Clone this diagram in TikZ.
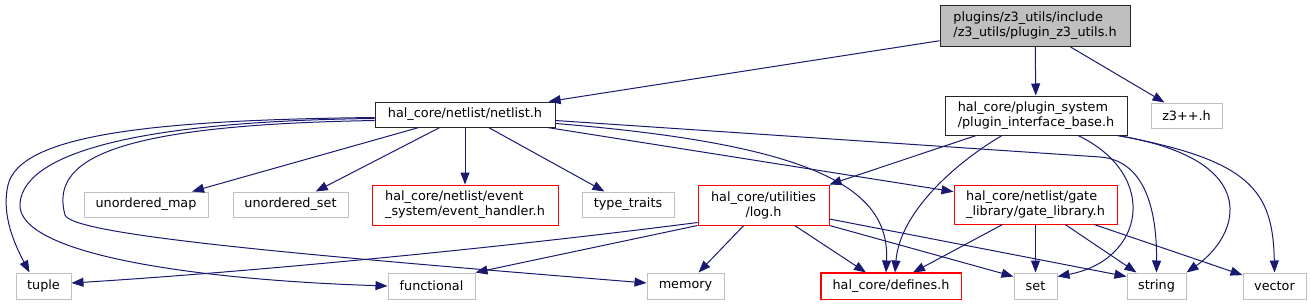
\documentclass[tikz,border=0pt]{standalone}
\usepackage{fontspec}
\usepackage{xcolor}
\usepackage{tikz}
\usetikzlibrary{arrows.meta,calc}
\newfontfamily\dxfont{DejaVu Sans}
\definecolor{cEdge}{HTML}{191970}
\definecolor{cExt}{HTML}{BFBFBF}
\definecolor{cTrunc}{HTML}{FF0000}
\definecolor{cRootF}{HTML}{BFBFBF}
\definecolor{cOwn}{HTML}{262626}
\tikzset{
  file/.style  ={rectangle, draw, line width=1pt, inner sep=0pt,
                 font=\dxfont\fontsize{12.8}{15}\selectfont, text=black},
  wh/.style 2 args={minimum width=#1pt, minimum height=#2pt},
  root/.style  ={file, draw=cOwn, fill=cRootF, align=left},
  own/.style   ={file, draw=cOwn, fill=white},
  ext/.style   ={file, draw=cExt, fill=white},
  trunc/.style ={file, draw=cTrunc, fill=white},
  dep/.style   ={-{Triangle[length=12pt,width=9pt]}, line width=1pt, draw=cEdge},
}

\begin{document}
\begin{tikzpicture}[x=1pt,y=-1pt]
  \useasboundingbox (0,0) rectangle (1311,305);

  % ---- root ----
  \node[root, wh={190}{41}] (z3utils) at (1035,26)
    {plugins/z3\_utils/include\\/z3\_utils/plugin\_z3\_utils.h};

  % ---- first level ----
  \node[own, wh={180}{25}] (netlist) at (465,114.5) {hal\_core/netlist/netlist.h};
  \node[own, wh={182}{39}, align=left] (pib) at (1036,115.5)
    {hal\_core/plugin\_system\\/plugin\_interface\_base.h};
  \node[ext, wh={71}{25}] (z3pp) at (1186.5,115.5) {z3++.h};

  % ---- second level ----
  \node[ext, wh={124}{25}] (umap) at (146,204.5) {unordered\_map};
  \node[ext, wh={115}{25}] (uset) at (290.5,204.5) {unordered\_set};
  \node[trunc, wh={186}{40}, align=left] (evh) at (465,205)
    {hal\_core/netlist/event\\\_system/event\_handler.h};
  \node[ext, wh={92}{25}] (traits) at (628,204.5) {type\_traits};
  \node[trunc, wh={131}{40}, align=center] (log) at (763.5,205)
    {hal\_core/utilities\\/log.h};
  \node[trunc, wh={163}{39}, align=left] (gate) at (1035.5,204.5)
    {hal\_core/netlist/gate\\\_library/gate\_library.h};

  % ---- std headers + defines ----
  \node[ext, wh={55}{26}] (tuple) at (43.5,286) {tuple};
  \node[ext, wh={87}{26}] (functional) at (431.5,286) {functional};
  \node[ext, wh={77}{26}] (memory) at (685.5,286) {memory};
  \node[trunc, wh={140}{26}] (defs) at (891,286) {hal\_core/defines.h};
  \node[ext, wh={43}{26}] (hset) at (1035.5,286) {set};
  \node[ext, wh={59}{26}] (hstring) at (1156.5,286) {string};
  \node[ext, wh={63}{26}] (vector) at (1274.5,286) {vector};

  % ---- edges from root ----
  \draw[dep] (z3utils) -- (netlist);
  \draw[dep] (z3utils) -- (pib);
  \draw[dep] (z3utils) -- (z3pp);

  % ---- edges from netlist.h ----
  \draw[dep] ($(netlist.west)+(0,3)$) .. controls (150,120) and (20,135) .. (8,185)
        .. controls (1,215) and (15,245) .. ($(tuple.north)+(-14,0)$);
  \draw[dep] ($(netlist.west)+(0,4)$) .. controls (150,121) and (25,150) .. (20,203)
        .. controls (15,255) and (200,280) .. (functional.west);
  \draw[dep] ($(netlist.west)+(0,6)$) .. controls (110,125) and (50,160) .. (65,215)
        .. controls (72,235) and (300,255) .. ($(memory.west)+(0,-3)$);
  \draw[dep] (netlist) -- (umap);
  \draw[dep] (netlist) -- (uset);
  \draw[dep] (netlist) -- (evh);
  \draw[dep] (netlist) -- (traits);
  \draw[dep] (netlist) -- (gate);
  \draw[dep] ($(netlist.east)+(0,9)$) .. controls (820,145) and (890,190)
        .. ($(defs.north)+(-5,0)$);
  \draw[dep] ($(netlist.east)+(0,6)$) -- (1100,157)
        .. controls (1140,160) and (1157,200) .. (hstring.north);

  % ---- edges from plugin_interface_base.h ----
  \draw[dep] (pib) -- (log.north east);
  \draw[dep] ($(pib.south)+(-34,0)$) .. controls (960,160) and (900,210)
        .. ($(defs.north)+(4,0)$);
  \draw[dep] ($(pib.south)+(42,0)$) .. controls (1160,175) and (1145,260)
        .. ($(hset.north east)+(0,4)$);
  \draw[dep] ($(pib.south east)+(-10,0)$) .. controls (1265,160) and (1240,235)
        .. (hstring.north east);
  \draw[dep] ($(pib.south east)+(-10,0)$) .. controls (1250,160) and (1273,190)
        .. (vector.north);

  % ---- edges from log.h ----
  \draw[dep] ($(log.south west)+(0,-3)$) .. controls (500,248) and (250,272)
        .. ($(tuple.east)+(0,-3)$);
  \draw[dep] (log.south west) -- (functional.north east);
  \draw[dep] (log) -- (memory);
  \draw[dep] (log) -- ($(defs.north)+(-25,0)$);
  \draw[dep] (log.south east) -- ($(hset.north west)+(0,4)$);
  \draw[dep] ($(log.east)+(0,14)$) -- ($(hstring.north west)+(0,4)$);

  % ---- edges from gate_library.h ----
  \draw[dep] ($(gate.south)+(-33,0)$) -- ($(defs.north)+(22,0)$);
  \draw[dep] (gate) -- (hset);
  \draw[dep] (gate) -- (hstring);
  \draw[dep] (gate) -- (vector);

  % ---- truncated-node frame on top ----
  \draw[line width=1pt, draw=cTrunc] (defs.north west) rectangle (defs.south east);

\end{tikzpicture}
\end{document}
